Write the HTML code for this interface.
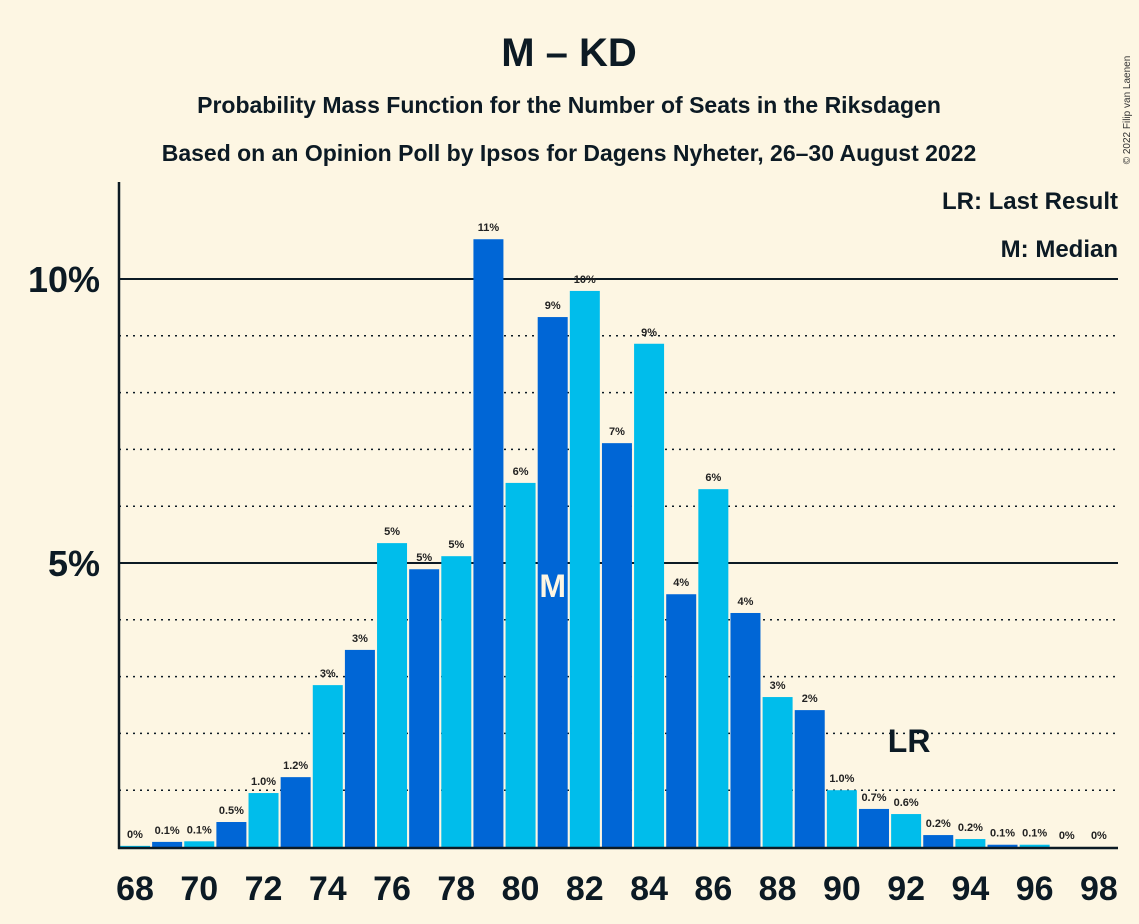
<!DOCTYPE html>
<html><head><meta charset="utf-8"><style>
body{margin:0;background:#fdf6e3;}
svg{display:block;font-family:"Liberation Sans",sans-serif;}
</style></head><body>
<svg id="c" width="1139" height="924" viewBox="0 0 1139 924">
<rect width="1139" height="924" fill="#fdf6e3"/>
<text x="569" y="66" text-anchor="middle" font-size="40" font-weight="bold" fill="#0c1a24">M – KD</text>
<text x="569" y="113" text-anchor="middle" font-size="23" font-weight="bold" fill="#0c1a24">Probability Mass Function for the Number of Seats in the Riksdagen</text>
<text x="569" y="161" text-anchor="middle" font-size="23" font-weight="bold" fill="#0c1a24">Based on an Opinion Poll by Ipsos for Dagens Nyheter, 26–30 August 2022</text>
<text x="1130" y="110" font-size="10" fill="#333" transform="rotate(-90 1130 110)" text-anchor="middle">© 2022 Filip van Laenen</text>
<text x="1118" y="209" text-anchor="end" font-size="24" font-weight="bold" fill="#0c1a24">LR: Last Result</text>
<text x="1118" y="257" text-anchor="end" font-size="24" font-weight="bold" fill="#0c1a24">M: Median</text>
<g id="grid"></g><g id="bars"></g><g id="labels"></g>
<line x1="119" y1="182" x2="119" y2="849" stroke="#0c1a24" stroke-width="2.5"/>
<line x1="118" y1="848" x2="1118" y2="848" stroke="#0c1a24" stroke-width="2.5"/>
</svg>
<script>
const seats=[68,69,70,71,72,73,74,75,76,77,78,79,80,81,82,83,84,85,86,87,88,89,90,91,92,93,94,95,96,97,98];
const probs=[0.02,0.09,0.1,0.44,0.95,1.23,2.85,3.47,5.35,4.89,5.12,10.7,6.41,9.33,9.79,7.11,8.86,4.45,6.3,4.12,2.64,2.41,1.0,0.67,0.58,0.21,0.14,0.04,0.04,0,0];
const valueLabels=["0%","0.1%","0.1%","0.5%","1.0%","1.2%","3%","3%","5%","5%","5%","11%","6%","9%","10%","7%","9%","4%","6%","4%","3%","2%","1.0%","0.7%","0.6%","0.2%","0.2%","0.1%","0.1%","0%","0%"];
const yTicks=[5,10];
const xTicks=[68,70,72,74,76,78,80,82,84,86,88,90,92,94,96,98];
const medianSeat=81, lastResultSeat=92;
const NS="http://www.w3.org/2000/svg";
const x=s=>135+(s-68)*32.13;
const y=p=>847-p*56.8;
function mk(t,a,par){const e=document.createElementNS(NS,t);for(const k in a)e.setAttribute(k,a[k]);document.getElementById(par).appendChild(e);return e;}
for(let p=1;p<=10;p++){
 const major=yTicks.includes(p);
 const l=mk('line',{x1:119,x2:1118,y1:y(p),y2:y(p),stroke:'#0c1a24','stroke-width':major?2:1.5,'stroke-dasharray':major?'':'2,5'},'grid');
 
 
}
yTicks.forEach(p=>{const t=mk('text',{x:100,y:y(p)+13,'text-anchor':'end','font-size':36,'font-weight':'bold',fill:'#0c1a24'},'labels');t.textContent=p+'%';
 
 });
xTicks.forEach(s=>{const t=mk('text',{x:x(s),y:900,'text-anchor':'middle','font-size':34,'font-weight':'bold',fill:'#0c1a24'},'labels');t.textContent=s;
 
 });
seats.forEach((s,i)=>{
 const p=probs[i];
 const r=mk('rect',{x:x(s)-15,y:y(p),width:30,height:847-y(p),fill:s%2? '#0066d6':'#00bdeb'},'bars');
 
 
 const t=mk('text',{x:x(s),y:y(p)-8,'text-anchor':'middle','font-size':11,'font-weight':'bold',fill:'#222'},'labels');t.textContent=valueLabels[i];
 
 
});
const m=mk('text',{x:x(medianSeat),y:597,'text-anchor':'middle','font-size':32,'font-weight':'bold',fill:'#fdf6e3'},'labels');m.textContent='M';


const li=seats.indexOf(lastResultSeat);
const lr=mk('text',{x:x(lastResultSeat)+3,y:y(probs[li])-62,'text-anchor':'middle','font-size':32,'font-weight':'bold',fill:'#0c1a24'},'labels');lr.textContent='LR';


</script>
</body></html>
